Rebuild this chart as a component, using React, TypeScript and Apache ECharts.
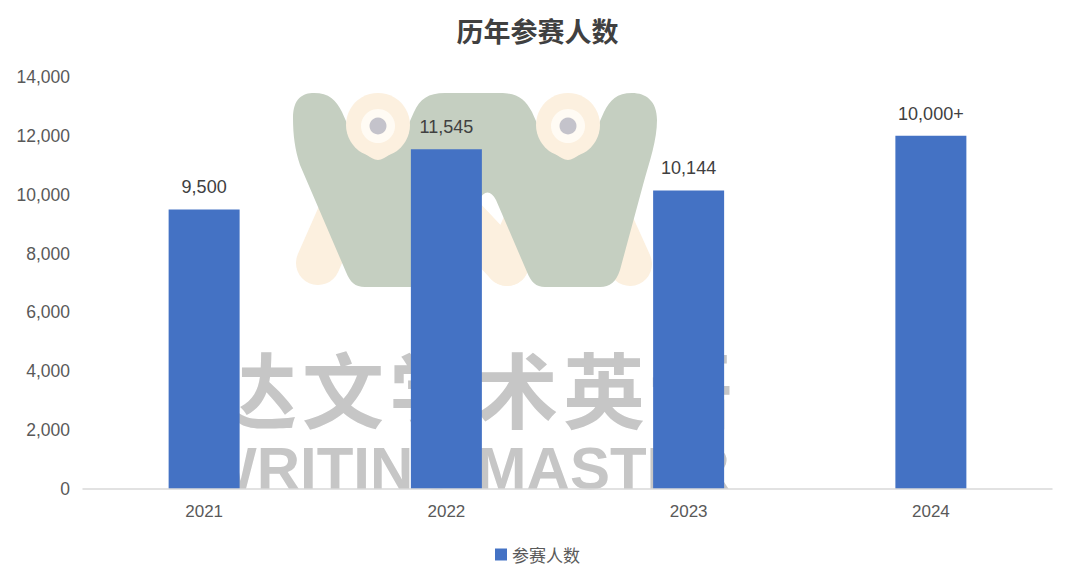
import React, { useEffect, useRef } from "react";
import * as echarts from "echarts";

const categories = ["2021", "2022", "2023", "2024"];
const values = [9500, 11545, 10144, 12000];
const valueLabels = ["9,500", "11,545", "10,144", "10,000+"];
const seriesName = "参赛人数";
const titleText = "历年参赛人数";
const yMin = 0;
const yMax = 14000;
const yInterval = 2000;
const watermarkCn = ["达", "文", "学", "术", "英", "语"];
const watermarkEn = "WRITING MASTER";

const W_PATH =
  "M 293 118 C 293 98 303 93 314 93 C 329 93 336 100 342 112 C 352 135 362 158 378 160 C 394 158 404 135 414 112 C 420 99 428 93 445 93 L 500 93 C 517 93 525 99 532 112 C 542 135 552 158 568 160 C 584 158 594 135 604 112 C 610 100 617 93 632 93 C 646 93 657 101 657 120 C 657 140 650 160 643 185 L 620 270 C 616 282 610 287 600 287 L 545 287 C 536 287 531 282 527 272 L 496 200 C 491 190 484 190 479 200 L 452 272 C 448 282 443 287 433 287 L 365 287 C 355 287 350 282 346 272 L 300 165 C 295 150 293 135 293 118 Z";

let registered = false;
function registerLogo() {
  if (registered) return;
  registered = true;
  echarts.graphic.registerShape("wlogo", echarts.graphic.extendPath(W_PATH, {}));
}

export default function App() {
  const ref = useRef<HTMLDivElement>(null);
  useEffect(() => {
    if (!ref.current) return;
    registerLogo();
    const chart = echarts.init(ref.current, null, { renderer: "svg" });
    const beige = "#fcf0df";
    const green = "#c5cfc1";
    const wmGray = "#c6c6c6";
    const legs = [
      [378, 127, 318, 263],
      [378, 127, 507, 264],
      [568, 127, 507, 264],
      [568, 127, 630, 264],
    ];
    const eyes = [378, 568];
    const graphic: any[] = [];
    legs.forEach((l) =>
      graphic.push({
        type: "line",
        silent: true,
        z: 0,
        shape: { x1: l[0], y1: l[1], x2: l[2], y2: l[3] },
        style: { stroke: beige, lineWidth: 44, lineCap: "round" },
      })
    );
    graphic.push({ type: "wlogo", silent: true, z: 0, shape: {}, style: { fill: green } });
    eyes.forEach((cx) => {
      graphic.push({ type: "circle", silent: true, z: 0, shape: { cx, cy: 125, r: 32 }, style: { fill: beige } });
      graphic.push({ type: "circle", silent: true, z: 0, shape: { cx, cy: 126, r: 17 }, style: { fill: "#fffbf4" } });
      graphic.push({ type: "circle", silent: true, z: 0, shape: { cx, cy: 126, r: 8.5 }, style: { fill: "#c4c3cb" } });
    });
    watermarkCn.forEach((ch, i) =>
      graphic.push({
        type: "text",
        silent: true,
        z: 0,
        x: 256 + 87 * i,
        y: 386,
        style: {
          text: ch,
          fill: wmGray,
          fontSize: 82,
          fontWeight: "bold",
          fontFamily: "Noto Sans CJK SC",
          align: "center",
          verticalAlign: "middle",
          textAlign: "center",
          textVerticalAlign: "middle",
        },
      })
    );
    graphic.push({
      type: "text",
      silent: true,
      z: 0,
      x: 200,
      y: 468,
      style: {
        text: watermarkEn,
        fill: wmGray,
        fontSize: 60,
        fontWeight: "bold",
        fontFamily: "Liberation Sans",
        align: "left",
        verticalAlign: "middle",
        textAlign: "left",
        textVerticalAlign: "middle",
      },
    });

    chart.setOption({
      animation: false,
      backgroundColor: "#ffffff",
      title: {
        text: titleText,
        left: "center",
        top: 12,
        textStyle: {
          fontSize: 27,
          fontWeight: "bold",
          color: "#404040",
          fontFamily: "Noto Sans CJK SC",
        },
      },
      legend: {
        data: [seriesName],
        top: 541,
        left: "center",
        icon: "rect",
        itemWidth: 12,
        itemHeight: 12,
        textStyle: { fontSize: 17, color: "#595959", fontFamily: "Noto Sans CJK SC" },
      },
      grid: { left: 83, right: 23, top: 77, bottom: 94, containLabel: false },
      graphic,
      xAxis: {
        type: "category",
        data: categories,
        z: 5,
        axisLine: { lineStyle: { color: "#d9d9d9", width: 1.5 } },
        axisTick: { show: false },
        axisLabel: { fontSize: 17, color: "#595959", margin: 14, fontFamily: "Liberation Sans" },
      },
      yAxis: {
        type: "value",
        min: yMin,
        max: yMax,
        interval: yInterval,
        axisLine: { show: false },
        axisTick: { show: false },
        splitLine: { show: false },
        axisLabel: {
          fontSize: 17.5,
          color: "#595959",
          margin: 13,
          fontFamily: "Liberation Sans",
          formatter: (v: number) => v.toLocaleString("en-US"),
        },
      },
      series: [
        {
          name: seriesName,
          type: "bar",
          data: values,
          barWidth: 71,
          z: 3,
          itemStyle: { color: "#4472c4" },
          label: {
            show: true,
            position: "top",
            distance: 13,
            fontSize: 18,
            color: "#404040",
            fontFamily: "Liberation Sans",
            formatter: (p: any) => valueLabels[p.dataIndex],
          },
        },
      ],
    });
    return () => chart.dispose();
  }, []);
  return (
    <div
      ref={ref}
      style={{ position: "fixed", left: 0, top: 0, width: 1075, height: 583, background: "#fff" }}
    />
  );
}
